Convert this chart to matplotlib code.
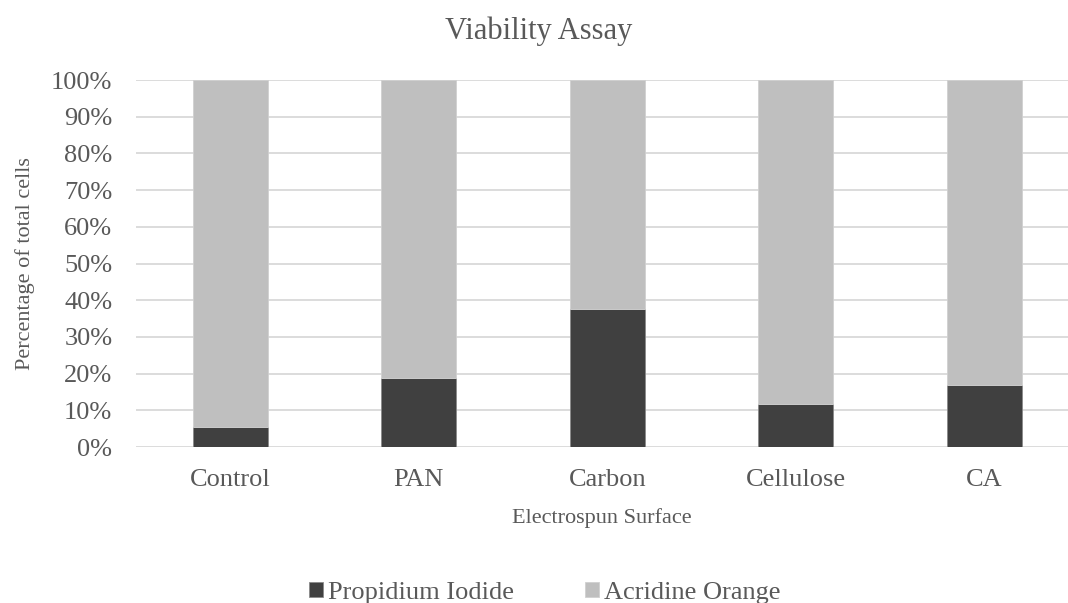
import matplotlib.pyplot as plt
from matplotlib.ticker import PercentFormatter

surfaces = ["Control", "PAN", "Carbon", "Cellulose", "CA"]
propidium = [5.5, 18.8, 37.5, 11.7, 17.0]
acridine = [100 - p for p in propidium]

plt.rcParams['font.family'] = ['Liberation Serif', 'DejaVu Serif']
txt = '#595959'

fig = plt.figure(figsize=(10.68, 6.03), dpi=100)
ax = fig.add_axes([0.1273, 0.2587, 0.8727, 0.6086])

x = range(len(surfaces))
ax.bar(x, propidium, width=0.4, color='#404040', edgecolor='#8a8a8a', linewidth=0.6,
       label='Propidium Iodide', zorder=3)
ax.bar(x, acridine, width=0.4, bottom=propidium, color='#bfbfbf', edgecolor='#d0d0d0',
       linewidth=0.6, label='Acridine Orange', zorder=3)

ax.set_xlim(-0.5, 4.444)
ax.set_ylim(0, 100)
ax.set_yticks(range(0, 101, 10))
ax.yaxis.set_major_formatter(PercentFormatter(decimals=0))
ax.set_xticks(list(x))
ax.set_xticklabels(surfaces)
ax.tick_params(length=0, labelsize=19, colors=txt)
ax.tick_params(axis='y', pad=17)
ax.tick_params(axis='x', pad=16)
ax.grid(axis='y', color='#d9d9d9', linewidth=1.3, zorder=0)
for s in ax.spines.values():
    s.set_visible(False)

fig.text(0.504, 0.949, 'Viability Assay', fontsize=22, color=txt, ha='center', va='center')
ax.set_xlabel('Electrospun Surface', fontsize=16, color=txt, labelpad=12)
ax.set_ylabel('Percentage of total cells', fontsize=16, color=txt)
ax.yaxis.set_label_coords(-0.108, 0.5)

fig.legend(loc='center', bbox_to_anchor=(0.51, 0.017), ncol=2, frameon=False,
           fontsize=19, labelcolor=txt, handlelength=0.53, handleheight=0.53,
           handletextpad=0.2, columnspacing=2.7, borderpad=0)

fig.savefig('out.png', dpi=100)
